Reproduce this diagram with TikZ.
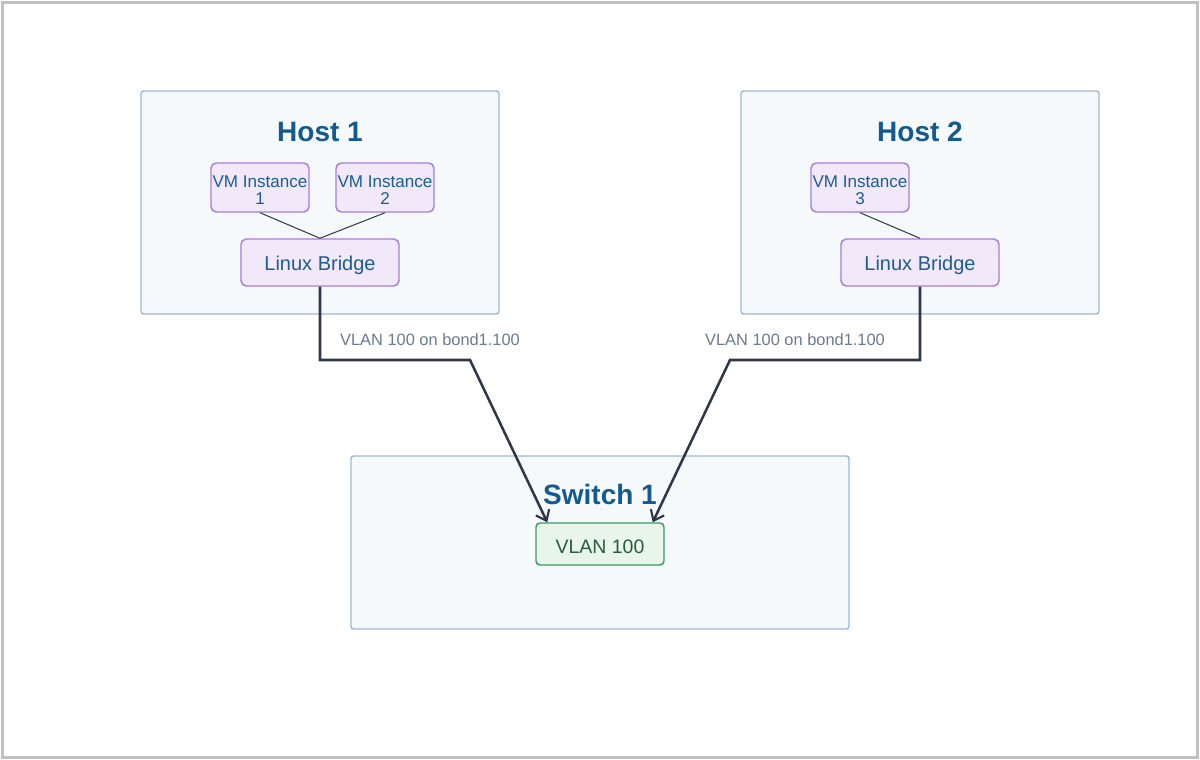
\documentclass[tikz,border=0pt]{standalone}
\usepackage{fontspec}
\setmainfont{Liberation Sans}
\usetikzlibrary{arrows.meta}

\definecolor{framegray}{HTML}{C0C0C0}
\definecolor{boxfill}{HTML}{F5F9FC}
\definecolor{boxline}{HTML}{A0B8D0}
\definecolor{titleblue}{HTML}{155A8F}
\definecolor{vmfill}{HTML}{F1E8FA}
\definecolor{vmline}{HTML}{A67FD9}
\definecolor{vmtext}{HTML}{1F5C8F}
\definecolor{vlanfill}{HTML}{E7F5EA}
\definecolor{vlanline}{HTML}{3D9A62}
\definecolor{vlantext}{HTML}{2B5A3C}
\definecolor{linkcol}{HTML}{2D3748}
\definecolor{labelgray}{HTML}{6B7A8C}

\tikzset{
  container/.style={draw=boxline, fill=boxfill, line width=1.1pt, rounded corners=2pt,
    minimum width=268.5pt, minimum height=167.25pt, inner sep=0pt},
  boxtitle/.style={text=titleblue, font=\fontsize{21}{24}\selectfont\bfseries},
  vmbox/.style={draw=vmline, fill=vmfill, line width=1.1pt, rounded corners=4pt,
    minimum width=73.5pt, minimum height=36.75pt, inner sep=0pt, align=center,
    text height=26.2pt, text depth=0pt,
    text=vmtext, font=\fontsize{12.8}{12.8}\selectfont},
  bridgebox/.style={draw=vmline, fill=vmfill, line width=1.1pt, rounded corners=4pt,
    minimum width=118.5pt, minimum height=35.25pt, inner sep=0pt,
    text height=12pt, text depth=0pt,
    text=vmtext, font=\fontsize{15}{18}\selectfont},
  vlanbox/.style={draw=vlanline, fill=vlanfill, line width=1.1pt, rounded corners=3pt,
    minimum width=96pt, minimum height=31.5pt, inner sep=0pt,
    text height=13.5pt, text depth=0pt,
    text=vlantext, font=\fontsize{14.6}{17}\selectfont},
  thinlink/.style={draw=linkcol, line width=0.75pt},
  link/.style={draw=linkcol, line width=1.9pt, line join=miter,
    -{Straight Barb[length=7pt,width=11pt,line width=1.6pt]}},
  linklabel/.style={text=labelgray, font=\fontsize{12.3}{14}\selectfont}
}

\begin{document}
\begin{tikzpicture}[x=0.75pt, y=-0.75pt]
\useasboundingbox (0,0) rectangle (1200,760);
\draw[framegray, line width=2.3pt] (2.5,2.5) rectangle (1197.5,757.5);

\node[container] (host1) at (320,202.5) {};
\node[container] (host2) at (920,202.5) {};
\node[container, minimum width=373.5pt, minimum height=129.75pt] (sw1) at (600,542.5) {};

\node[boxtitle] (host1title) at (320,132) {Host 1};
\node[boxtitle] (host2title) at (920,132) {Host 2};
\node[boxtitle] (sw1title) at (600,494) {Switch 1};

\node[vmbox] (vm1) at (260,187.5) {VM Instance\\1};
\node[vmbox] (vm2) at (385,187.5) {VM Instance\\2};
\node[vmbox] (vm3) at (860,187.5) {VM Instance\\3};

\node[bridgebox] (br1) at (320,262.5) {Linux Bridge};
\node[bridgebox] (br2) at (920,262.5) {Linux Bridge};

\node[vlanbox] (vlan) at (600,544) {VLAN 100};

\draw[thinlink] (vm1.south) -- (br1.north);
\draw[thinlink] (vm2.south) -- (br1.north);
\draw[thinlink] (vm3.south) -- (br2.north);

\coordinate (bend1) at (470,360);
\coordinate (bend2) at (730,360);
\draw[link] (br1.south) |- (bend1) -- ([xshift=9pt]vlan.north west);
\draw[link] (br2.south) |- (bend2) -- ([xshift=-9pt]vlan.north east);

\node[linklabel] (lbl1) at (430,340) {VLAN 100 on bond1.100};
\node[linklabel] (lbl2) at (795,340) {VLAN 100 on bond1.100};
\end{tikzpicture}
\end{document}
